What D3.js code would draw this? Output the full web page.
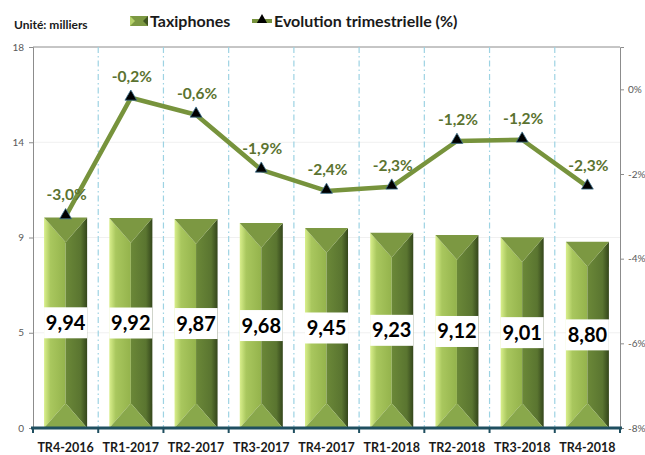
<!DOCTYPE html>
<html>
<head>
  <meta charset="utf-8">
  <title>Taxiphones</title>
  <script src="https://d3js.org/d3.v7.min.js"></script>
  <style>
    body { margin: 0; background: #fff; }
    text { font-family: Lato, "Open Sans", sans-serif; }
  </style>
</head>
<body>
  <div id="chart"></div>
  <script>
    // data
    const categories = ["TR4-2016", "TR1-2017", "TR2-2017", "TR3-2017", "TR4-2017", "TR1-2018", "TR2-2018", "TR3-2018", "TR4-2018"];
    const taxiphones = [9.94, 9.92, 9.87, 9.68, 9.45, 9.23, 9.12, 9.01, 8.80];
    const evolution = [-3.0, -0.2, -0.6, -1.9, -2.4, -2.3, -1.22, -1.19, -2.3];
    const leftTicks = [0, 4.5, 9, 13.5, 18];
    const leftTickLabels = ["0", "5", "9", "14", "18"];
    const rightTicks = [-8, -6, -4, -2, 0];
    const seriesNames = ["Taxiphones", "Evolution trimestrielle (%)"];
    const unitLabel = "Unité: milliers";

    const width = 645, height = 455;
    const plot = {left: 33, right: 620, top: 47, bottom: 428};
    const comma = v => v.toString().replace(".", ",");

    const svg = d3.select("#chart")
      .append("svg")
      .attr("width", width)
      .attr("height", height);

    // gradients for the bevelled bars
    const defs = svg.append("defs");
    const lg = defs.append("linearGradient").attr("id", "leftFace");
    lg.append("stop").attr("offset", "0%").attr("stop-color", "#d9ef8c");
    lg.append("stop").attr("offset", "30%").attr("stop-color", "#a9c75e");
    lg.append("stop").attr("offset", "100%").attr("stop-color", "#94b34c");
    const rg = defs.append("linearGradient").attr("id", "rightFace");
    rg.append("stop").attr("offset", "0%").attr("stop-color", "#6b8838");
    rg.append("stop").attr("offset", "70%").attr("stop-color", "#5a7530");
    rg.append("stop").attr("offset", "100%").attr("stop-color", "#34461b");

    // scales
    const x = d3.scaleBand()
      .domain(categories)
      .range([plot.left, plot.right])
      .padding(0);
    const yL = d3.scaleLinear().domain([0, 18]).range([plot.bottom, plot.top]);
    const yR = d3.scaleLinear().domain([-8, 1]).range([plot.bottom, plot.top]);

    // faint horizontal gridlines
    svg.append("g")
      .selectAll("line")
      .data(leftTicks.slice(1, -1))
      .enter()
      .append("line")
      .attr("x1", plot.left).attr("x2", plot.right)
      .attr("y1", d => yL(d)).attr("y2", d => yL(d))
      .attr("stroke", "#f0f0f0");

    // top border
    svg.append("line")
      .attr("x1", plot.left).attr("x2", plot.right)
      .attr("y1", plot.top).attr("y2", plot.top)
      .attr("stroke", "#8c8c8c");

    // vertical dashed separators
    svg.append("g")
      .selectAll("line")
      .data(categories.slice(1))
      .enter()
      .append("line")
      .attr("x1", d => x(d)).attr("x2", d => x(d))
      .attr("y1", plot.top).attr("y2", plot.bottom)
      .attr("stroke", "#9dd3e3")
      .attr("stroke-width", 1.2)
      .attr("stroke-dasharray", "6,3,1.5,3");

    // bars
    const bw = x.bandwidth() * 0.66;
    const bars = svg.append("g")
      .selectAll("g")
      .data(categories)
      .enter()
      .append("g");

    bars.each(function(c, i) {
      const g = d3.select(this);
      const x0 = x(c) + (x.bandwidth() - bw) / 2, x1 = x0 + bw, xm = x0 + bw / 2;
      const top = yL(taxiphones[i]), bot = yL(0);
      const b = bw / 2 * 1.15;
      const poly = pts => pts.map(p => p.join(",")).join(" ");
      g.append("polygon")
        .attr("points", poly([[x0, top], [xm, top + b], [xm, bot - b], [x0, bot]]))
        .attr("fill", "url(#leftFace)");
      g.append("polygon")
        .attr("points", poly([[xm, top + b], [x1, top], [x1, bot], [xm, bot - b]]))
        .attr("fill", "url(#rightFace)");
      g.append("polygon")
        .attr("points", poly([[x0, top], [x1, top], [xm, top + b]]))
        .attr("fill", "#7c9842");
      g.append("polygon")
        .attr("points", poly([[x0, bot], [xm, bot - b], [x1, bot]]))
        .attr("fill", "#89a84b");

      // value label box
      const mid = (top + bot) / 2;
      g.append("rect")
        .attr("x", x0).attr("y", mid - 15.5)
        .attr("width", bw).attr("height", 31)
        .attr("fill", "#fff");
      g.append("text")
        .attr("x", xm).attr("y", mid + 7)
        .attr("text-anchor", "middle")
        .attr("font-size", "20px")
        .attr("font-weight", "bold")
        .attr("fill", "#000")
        .text(taxiphones[i].toFixed(2).replace(".", ","));
    });

    // left axis
    const axL = svg.append("g")
      .attr("transform", `translate(${plot.left},0)`)
      .call(d3.axisLeft(yL).tickValues(leftTicks).tickFormat((d, i) => leftTickLabels[i]).tickSize(4).tickPadding(5));
    axL.select(".domain").attr("stroke", "#8c8c8c");
    axL.selectAll(".tick line").attr("stroke", "#8c8c8c");
    axL.selectAll(".tick text").attr("fill", "#595959").attr("font-size", "10px");

    // right axis
    const axR = svg.append("g")
      .attr("transform", `translate(${plot.right},0)`)
      .call(d3.axisRight(yR).tickValues(rightTicks).tickFormat(d => d + "%").tickSize(4).tickPadding(4));
    axR.select(".domain").attr("stroke", "#8c8c8c");
    axR.selectAll(".tick line").attr("stroke", "#8c8c8c");
    axR.selectAll(".tick text").attr("fill", "#595959").attr("font-size", "10px");

    // bottom axis
    svg.append("line")
      .attr("x1", plot.left - 2).attr("x2", plot.right + 2)
      .attr("y1", plot.bottom).attr("y2", plot.bottom)
      .attr("stroke", "#1f4f60")
      .attr("stroke-width", 3);
    svg.append("g")
      .selectAll("line")
      .data(categories.concat([null]))
      .enter()
      .append("line")
      .attr("x1", (d, i) => plot.left + i * x.step())
      .attr("x2", (d, i) => plot.left + i * x.step())
      .attr("y1", plot.bottom).attr("y2", plot.bottom + 5)
      .attr("stroke", "#1f4f60")
      .attr("stroke-width", 2);
    svg.append("g")
      .selectAll("text")
      .data(categories)
      .enter()
      .append("text")
      .attr("x", d => x(d) + x.bandwidth() / 2)
      .attr("y", 452)
      .attr("text-anchor", "middle")
      .attr("font-size", "12.5px")
      .attr("font-weight", "bold")
      .attr("fill", "#1a1a1a")
      .text(d => d);

    // evolution line
    const cx = (d, i) => x(categories[i]) + x.bandwidth() / 2;
    const line = d3.line()
      .x(cx)
      .y(d => yR(d));
    svg.append("path")
      .datum(evolution)
      .attr("d", line)
      .attr("fill", "none")
      .attr("stroke", "#77933c")
      .attr("stroke-width", 4.5)
      .attr("stroke-linejoin", "round");

    const tri = d3.symbol().type(d3.symbolTriangle).size(60);
    svg.append("g")
      .selectAll("path")
      .data(evolution)
      .enter()
      .append("path")
      .attr("d", tri)
      .attr("transform", (d, i) => `translate(${cx(d, i)},${yR(d) - 1})`)
      .attr("fill", "#000")
      .attr("stroke", "#3b6e8a")
      .attr("stroke-width", 0.8);

    svg.append("g")
      .selectAll("text")
      .data(evolution)
      .enter()
      .append("text")
      .attr("x", (d, i) => cx(d, i) + 1)
      .attr("y", d => yR(d) - 16)
      .attr("text-anchor", "middle")
      .attr("font-size", "15.5px")
      .attr("font-weight", "bold")
      .attr("fill", "#5b7330")
      .text(d => comma(d.toFixed(1)) + "%");

    // unit + legend
    svg.append("text")
      .attr("x", 14).attr("y", 29)
      .attr("font-size", "12px")
      .attr("font-weight", "bold")
      .attr("fill", "#1a1a1a")
      .text(unitLabel);

    const lgBar = svg.append("g").attr("transform", "translate(130,16)");
    lgBar.append("rect").attr("width", 18).attr("height", 10).attr("fill", "#7c9842");
    lgBar.append("polygon").attr("points", "0,0 5,5 0,10").attr("fill", "#b5d16a");
    lgBar.append("polygon").attr("points", "18,0 13,5 18,10").attr("fill", "#3f5420");
    lgBar.append("text")
      .attr("x", 20).attr("y", 11)
      .attr("font-size", "16px")
      .attr("font-weight", "bold")
      .attr("fill", "#1a1a1a")
      .text(seriesNames[0]);

    const lgLine = svg.append("g").attr("transform", "translate(252,21)");
    lgLine.append("line").attr("x1", 0).attr("x2", 20)
      .attr("stroke", "#77933c").attr("stroke-width", 4);
    lgLine.append("path")
      .attr("d", d3.symbol().type(d3.symbolTriangle).size(45))
      .attr("transform", "translate(10,-1)")
      .attr("fill", "#000");
    lgLine.append("text")
      .attr("x", 22).attr("y", 6)
      .attr("font-size", "16px")
      .attr("font-weight", "bold")
      .attr("fill", "#1a1a1a")
      .text(seriesNames[1]);
  </script>
</body>
</html>
